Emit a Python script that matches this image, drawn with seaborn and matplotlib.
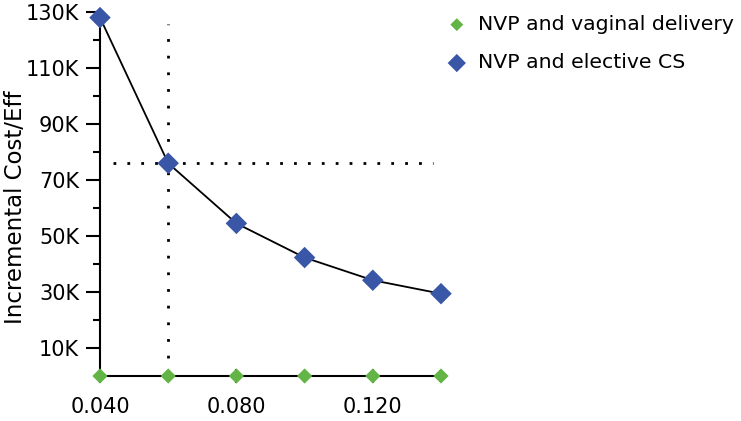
import numpy as np
import pandas as pd
import matplotlib
matplotlib.use("Agg")
import matplotlib.pyplot as plt
import seaborn as sns
from matplotlib.ticker import FixedLocator, FuncFormatter

# data
prob = [0.04, 0.06, 0.08, 0.10, 0.12, 0.14]
vaginal = [0, 0, 0, 0, 0, 0]
elective_cs = [128000, 76000, 54500, 42300, 34200, 29400]
threshold_x = 0.06
threshold_y = 76000

sns.set_style("ticks")
plt.rcParams["font.family"] = ["DejaVu Sans"]
plt.rcParams["text.color"] = "black"
plt.rcParams["axes.labelcolor"] = "black"
plt.rcParams["xtick.labelcolor"] = "black"
plt.rcParams["ytick.labelcolor"] = "black"

df = pd.DataFrame({"prob": prob, "NVP and vaginal delivery": vaginal,
                   "NVP and elective CS": elective_cs})

fig = plt.figure(figsize=(7.41, 4.21), dpi=100)
ax = fig.add_axes([100 / 741, 45 / 421, 341 / 741, 364 / 421])

# reference dotted lines
ax.plot([threshold_x, threshold_x], [6500, 125700], color="black", linestyle=(0, (1, 5)), lw=2)
ax.plot([0.0438, 0.1378], [threshold_y, threshold_y], color="black", linestyle=(0, (1, 4)), lw=2)

sns.lineplot(data=df, x="prob", y="NVP and elective CS", color="black", lw=1.3, ax=ax)
sns.scatterplot(data=df, x="prob", y="NVP and vaginal delivery", marker="D", s=60,
                color="#63b446", edgecolor="none", label="NVP and vaginal delivery",
                clip_on=False, zorder=5, ax=ax)
sns.scatterplot(data=df, x="prob", y="NVP and elective CS", marker="D", s=120,
                color="#3a56a6", edgecolor="none", label="NVP and elective CS",
                clip_on=False, zorder=5, ax=ax)

ax.set_xlim(0.04, 0.14)
ax.set_ylim(0, 130000)
ax.xaxis.set_major_locator(FixedLocator([0.04, 0.08, 0.12]))
ax.xaxis.set_minor_locator(FixedLocator([0.06, 0.10, 0.14]))
ax.xaxis.set_major_formatter(FuncFormatter(lambda v, p: f"{v:.3f}"))
ax.yaxis.set_major_locator(FixedLocator(np.arange(10000, 140000, 20000)))
ax.yaxis.set_minor_locator(FixedLocator(np.arange(20000, 130000, 20000)))
ax.yaxis.set_major_formatter(FuncFormatter(lambda v, p: f"{int(v / 1000)}K"))

ax.tick_params(axis="both", which="major", length=10, width=1.5, labelsize=15,
               color="black", labelcolor="black")
ax.tick_params(axis="both", which="minor", length=5, width=1.5, color="black")
ax.tick_params(axis="y", which="major", pad=5)
ax.tick_params(axis="x", which="both", direction="inout", pad=10)
for side in ["left", "bottom"]:
    ax.spines[side].set_linewidth(1.5)
    ax.spines[side].set_color("black")
sns.despine(ax=ax)

ax.set_xlabel("")
ax.set_ylabel("Incremental Cost/Eff", fontsize=16.5, color="black")
ax.yaxis.set_label_coords(-0.213, 0.464)

ax.get_legend().remove()
handles, labels = ax.get_legend_handles_labels()
fig.legend(handles, labels, loc="upper left", bbox_to_anchor=(418 / 741, 1.008),
           frameon=False, fontsize=14.7, handletextpad=0.05, labelspacing=0.95,
           markerscale=0.85, labelcolor="black")

fig.savefig("out.png", dpi=100)
